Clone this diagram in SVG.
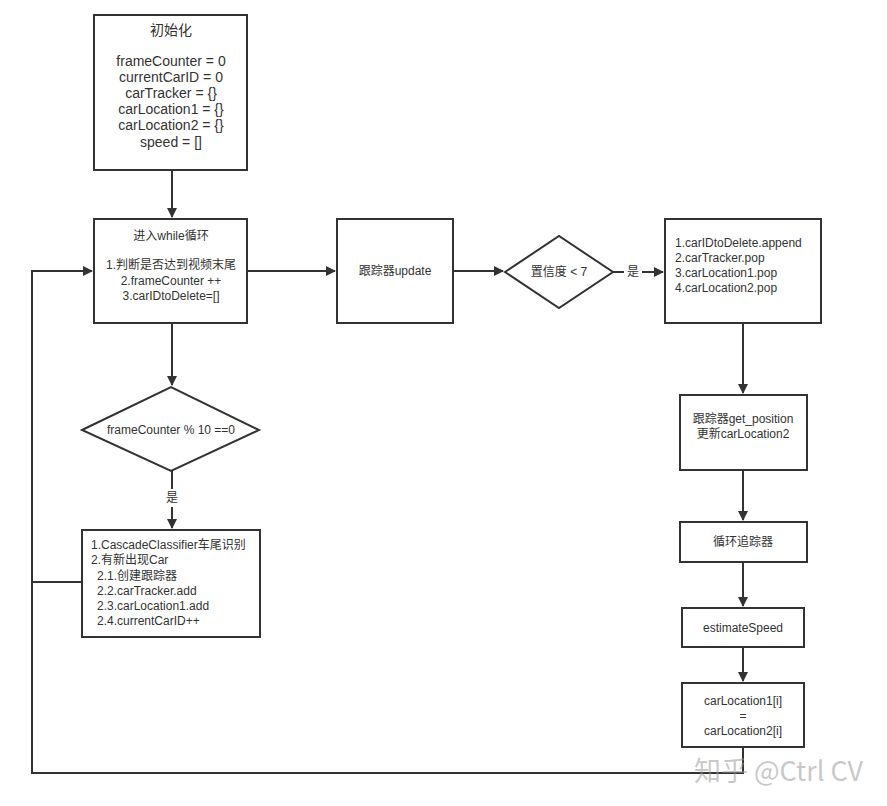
<svg xmlns="http://www.w3.org/2000/svg" width="887" height="806" viewBox="0 0 887 806">
<defs>
<style>
.box{fill:#fff;stroke:#333;stroke-width:2}
.t{font-family:"Liberation Sans","Noto Sans CJK SC",sans-serif;font-size:12px;fill:#333;text-anchor:middle;dominant-baseline:central}
.tl{text-anchor:start}
.big{font-size:14px}
.ln{fill:none;stroke:#333;stroke-width:2}
.wm{font-family:"Noto Sans CJK SC","Noto Sans",sans-serif;font-size:27px;fill:#999;fill-opacity:0.55;dominant-baseline:central}
</style>
<marker id="ar" viewBox="0 0 10 10" refX="9" refY="5" markerWidth="5" markerHeight="5" orient="auto" markerUnits="strokeWidth">
<path d="M0,0 L10,5 L0,10 z" fill="#333"/>
</marker>
</defs>
<rect width="887" height="806" fill="#fff"/>
<g id="connectors">
<path class="ln" d="M172,170 V217" marker-end="url(#ar)"/>
<path class="ln" d="M247,271 H335" marker-end="url(#ar)"/>
<path class="ln" d="M453,271 H503" marker-end="url(#ar)"/>
<path class="ln" d="M613,272 H624 M642,272 H663" marker-end="url(#ar)"/>
<text class="t" x="633" y="272">是</text>
<path class="ln" d="M172,323 V385" marker-end="url(#ar)"/>
<path class="ln" d="M172,471 V489 M172,507 V528" marker-end="url(#ar)"/>
<text class="t" x="172" y="498">是</text>
<path class="ln" d="M743,323 V393" marker-end="url(#ar)"/>
<path class="ln" d="M743,470 V520" marker-end="url(#ar)"/>
<path class="ln" d="M743,562 V606" marker-end="url(#ar)"/>
<path class="ln" d="M743,647 V681" marker-end="url(#ar)"/>
<path class="ln" d="M743,747 V773 H32 V271 H92" marker-end="url(#ar)"/>
<path class="ln" d="M82,582 H32"/>
</g>
<g id="init">
<rect class="box" x="94" y="15" width="153" height="155"/>
<text class="t big" x="171" y="30">初始化</text>
<text class="t big" x="171" y="61">frameCounter = 0</text>
<text class="t big" x="171" y="77">currentCarID = 0</text>
<text class="t big" x="171" y="93">carTracker = {}</text>
<text class="t big" x="171" y="109">carLocation1 = {}</text>
<text class="t big" x="171" y="125">carLocation2 = {}</text>
<text class="t big" x="171" y="142">speed = []</text>
</g>
<g id="loop">
<rect class="box" x="94" y="219" width="153" height="104"/>
<text class="t" x="171" y="236">进入while循环</text>
<text class="t" x="171" y="265">1.判断是否达到视频末尾</text>
<text class="t" x="171" y="281">2.frameCounter ++</text>
<text class="t" x="171" y="296">3.carIDtoDelete=[]</text>
</g>
<g id="update">
<rect class="box" x="337" y="219" width="116" height="104"/>
<text class="t" x="395" y="271">跟踪器update</text>
</g>
<g id="conf">
<path class="box" d="M505,272 L559,236 L613,272 L559,308 Z"/>
<text class="t" x="559" y="272">置信度 &lt; 7</text>
</g>
<g id="delete">
<rect class="box" x="665" y="219" width="156" height="104"/>
<text class="t tl" x="675" y="243">1.carIDtoDelete.append</text>
<text class="t tl" x="675" y="258">2.carTracker.pop</text>
<text class="t tl" x="675" y="273">3.carLocation1.pop</text>
<text class="t tl" x="675" y="288">4.carLocation2.pop</text>
</g>
<g id="getpos">
<rect class="box" x="680" y="395" width="127" height="75"/>
<text class="t" x="743" y="419">跟踪器get_position</text>
<text class="t" x="743" y="434">更新carLocation2</text>
</g>
<g id="looptracker">
<rect class="box" x="680" y="522" width="127" height="40"/>
<text class="t" x="743" y="542">循环追踪器</text>
</g>
<g id="estimate">
<rect class="box" x="682" y="608" width="122" height="39"/>
<text class="t" x="743" y="628">estimateSpeed</text>
</g>
<g id="assign">
<rect class="box" x="682" y="683" width="122" height="64"/>
<text class="t" x="743" y="701">carLocation1[i]</text>
<text class="t" x="743" y="716">=</text>
<text class="t" x="743" y="731">carLocation2[i]</text>
</g>
<g id="mod">
<path class="box" d="M82,430 L171,387 L259,430 L171,471 Z"/>
<text class="t" x="171" y="430">frameCounter % 10 ==0</text>
</g>
<g id="detect">
<rect class="box" x="82" y="530" width="178" height="107"/>
<text class="t tl" x="91" y="545">1.CascadeClassifier车尾识别</text>
<text class="t tl" x="91" y="560">2.有新出现Car</text>
<text class="t tl" x="97" y="576">2.1.创建跟踪器</text>
<text class="t tl" x="97" y="591">2.2.carTracker.add</text>
<text class="t tl" x="97" y="606">2.3.carLocation1.add</text>
<text class="t tl" x="97" y="621">2.4.currentCarID++</text>
</g>
<text class="wm" x="694" y="769">知乎 @Ctrl CV</text>
</svg>
